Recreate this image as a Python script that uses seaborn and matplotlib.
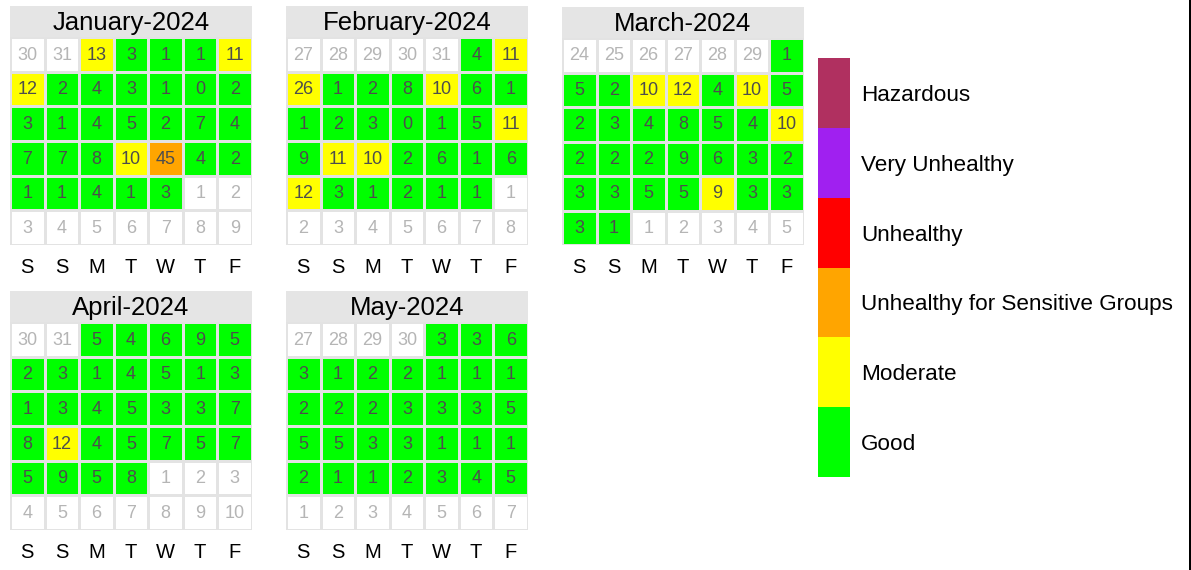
import numpy as np
import pandas as pd
import matplotlib
matplotlib.use("Agg")
import matplotlib.pyplot as plt
from matplotlib.colors import ListedColormap
from matplotlib.patches import Rectangle
import seaborn as sns

sns.set_style("white")
plt.rcParams["font.family"] = ["Liberation Sans", "DejaVu Sans"]

# daily PM2.5 values read from the calendar (8.8 / 9.3 shown rounded as 9)
jan = [13, 3, 1, 1, 11, 12, 2, 4, 3, 1, 0, 2, 3, 1, 4, 5, 2, 7, 4, 7, 7, 8, 10, 45, 4, 2,
       1, 1, 4, 1, 3]
feb = [4, 11, 26, 1, 2, 8, 10, 6, 1, 1, 2, 3, 0, 1, 5, 11, 8.8, 11, 10, 2, 6, 1, 6,
       12, 3, 1, 2, 1, 1]
mar = [1, 5, 2, 10, 12, 4, 10, 5, 2, 3, 4, 8, 5, 4, 10, 2, 2, 2, 8.8, 6, 3, 2,
       3, 3, 5, 5, 9.3, 3, 3, 3, 1]
apr = [5, 4, 6, 9, 5, 2, 3, 1, 4, 5, 1, 3, 1, 3, 4, 5, 3, 3, 7, 8, 12, 4, 5, 7, 5, 7,
       5, 9, 5, 8]
may = [3, 3, 6, 3, 1, 2, 2, 1, 1, 1, 2, 2, 2, 3, 3, 3, 5, 5, 5, 3, 3, 1, 1, 1,
       2, 1, 1, 2, 3, 4, 5]

months = ["2024-01-01", "2024-02-01", "2024-03-01", "2024-04-01", "2024-05-01"]
month_values = [jan, feb, mar, apr, may]
weekdays = ["S", "S", "M", "T", "W", "T", "F"]

categories = ["Good", "Moderate", "Unhealthy for Sensitive Groups", "Unhealthy",
              "Very Unhealthy", "Hazardous"]
breaks = [9.0, 35.4, 55.4, 125.4, 225.4]
colors = ["#00FF00", "#FFFF00", "#FFA500", "#FF0000", "#A020F0", "#B03060"]
cmap = ListedColormap(["white"] + colors)

W, H = 1191, 570
fig = plt.figure(figsize=(W / 100, H / 100), dpi=100)


def px_rect(left, top, right, bottom):
    return [left / W, 1 - bottom / H, (right - left) / W, (bottom - top) / H]


# grid boxes in pixels: left, top, right, bottom
panels = [(10, 37, 252, 245), (286, 37, 528, 245), (562, 38, 804, 245),
          (10, 322, 252, 530), (286, 322, 528, 530)]

for start, vals, box in zip(months, month_values, panels):
    first = pd.Timestamp(start)
    offset = (first.weekday() + 2) % 7  # week starts on Saturday
    dates = pd.date_range(first - pd.Timedelta(days=offset), periods=42)
    codes = np.zeros(42, dtype=int)
    in_month = dates.month == first.month
    day_vals = np.array(vals, dtype=float)
    codes[in_month] = np.digitize(day_vals, breaks, right=True) + 1

    ax = fig.add_axes(px_rect(*box))
    sns.heatmap(pd.DataFrame(codes.reshape(6, 7)), cmap=cmap, vmin=-0.5, vmax=6.5,
                cbar=False, linewidths=1.8, linecolor="#e3e3e3", ax=ax)
    labels = np.array([str(d.day) for d in dates], dtype=object)
    labels[in_month] = [f"{v:.0f}" for v in day_vals]
    for i in range(42):
        r, c = divmod(i, 7)
        ax.text(c + 0.5, r + 0.52, labels[i], ha="center", va="center", fontsize=13,
                color="#4d4d4d" if in_month[i] else "#b5b5b5")

    strip_h = 31 / ((box[3] - box[1]) / 6)
    ax.add_patch(Rectangle((0, -strip_h), 7, strip_h, facecolor="#e5e5e5",
                           edgecolor="none", clip_on=False))
    ax.text(3.5, -strip_h / 2 + 0.03, first.strftime("%B-%Y"), ha="center", va="center",
            fontsize=18.5, color="black")

    ax.set_xticks(np.arange(7) + 0.5)
    ax.set_xticklabels(weekdays, fontsize=14.5, color="black")
    ax.set_yticks([])
    ax.tick_params(axis="x", length=0, pad=9.5)
    ax.set_xlabel("")
    ax.set_ylabel("")

# legend key
lax = fig.add_axes(px_rect(818, 58, 850, 477))
key = pd.DataFrame(np.arange(6, 0, -1).reshape(6, 1))
sns.heatmap(key, cmap=cmap, vmin=-0.5, vmax=6.5, cbar=False, ax=lax,
            xticklabels=False, yticklabels=categories[::-1])
lax.yaxis.tick_right()
lax.tick_params(axis="y", length=0, pad=8, labelsize=16.2, labelrotation=0)
for t in lax.get_yticklabels():
    t.set_ha("left")
    t.set_color("black")

fig.add_artist(Rectangle((1189 / W, 0), 2 / W, 1, transform=fig.transFigure,
                         facecolor="black", edgecolor="none"))

fig.savefig("out.png", dpi=100, facecolor="white")
